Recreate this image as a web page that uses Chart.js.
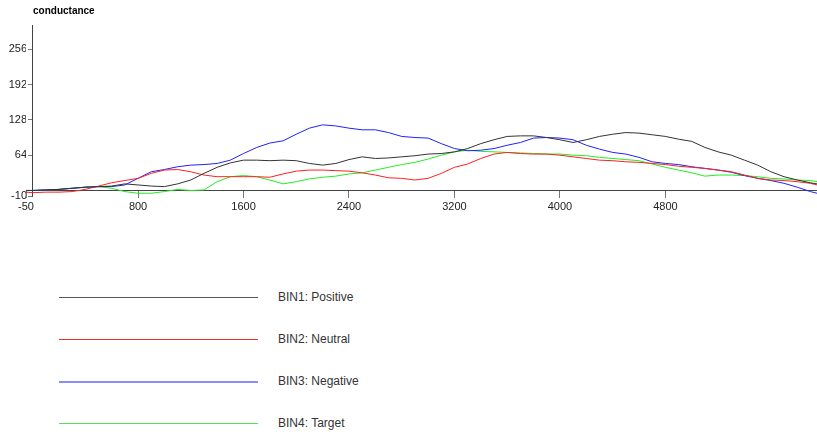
<!DOCTYPE html>
<html>
<head>
  <meta charset="UTF-8">
  <title>conductance</title>
  <script src="https://cdn.jsdelivr.net/npm/chart.js"></script>
  <style>
    body { margin: 0; width: 817px; height: 437px; overflow: hidden; background: #fff;
           font-family: "Liberation Sans", Arial, sans-serif; }
    #title { position: absolute; left: 33px; top: 5px; font-size: 10px; font-weight: bold; color: #000; }
    #wrap { position: absolute; left: 0; top: 0; width: 817px; height: 230px; }
    #legend { position: absolute; left: 0; top: 0; }
    .row { position: absolute; left: 59px; width: 400px; height: 16px; }
    .row .ln { position: absolute; left: 0; width: 199px; top: 8px; }
    .row .tx { position: absolute; left: 219px; top: 1px; font-size: 12px; color: #333; white-space: nowrap; }
  </style>
</head>
<body>
  <div id="wrap"><canvas id="chart" width="817" height="230"></canvas></div>
  <div id="title">conductance</div>
  <div id="legend"></div>

  <script>
    // x positions shared by every series
    const xs = [-50, 0, 100, 200, 300, 400, 500, 600, 700, 800, 900,
                1000, 1100, 1200, 1300, 1400, 1500, 1600, 1700, 1800, 1900,
                2000, 2100, 2200, 2300, 2400, 2500, 2600, 2700, 2800, 2900,
                3000, 3100, 3200, 3300, 3400, 3500, 3600, 3700, 3800, 3900,
                4000, 4100, 4200, 4300, 4400, 4500, 4600, 4700, 4800, 4900,
                5000, 5100, 5200, 5300, 5400, 5500, 5600, 5700, 5800, 5900, 5950];

    const bin1 = [0, 0, 1, 2, 4, 6, 7, 8, 12, 10, 8,
                  7, 12, 19, 31, 42, 50, 55, 55, 54, 55,
                  54, 49, 46, 49, 56, 61, 58, 59, 61, 63,
                  66, 67, 70, 76, 85, 92, 98, 99, 99, 96,
                  92, 87, 92, 98, 102, 105, 104, 101, 98, 93,
                  89, 78, 70, 64, 55, 46, 34, 25, 19, 14, 12];
    const bin2 = [-3, -4, -3, -3, -2, 2, 8, 14, 18, 22, 31,
                  37, 38, 34, 28, 25, 25, 25, 25, 24, 30,
                  35, 37, 37, 36, 35, 32, 28, 23, 22, 19,
                  22, 31, 42, 48, 58, 66, 69, 67, 66, 66,
                  64, 61, 58, 55, 54, 52, 51, 49, 47, 44,
                  42, 40, 37, 34, 28, 22, 19, 18, 16, 13, 10];
    const bin3 = [0, 0, 1, 2, 4, 6, 7, 7, 10, 22, 34,
                  38, 43, 46, 47, 49, 55, 67, 78, 86, 90,
                  102, 113, 119, 117, 113, 110, 110, 105, 98, 96,
                  95, 85, 76, 72, 73, 76, 82, 87, 95, 96,
                  95, 92, 82, 75, 69, 66, 60, 52, 49, 47,
                  43, 40, 37, 33, 27, 22, 18, 13, 6, -2, -5];
    const bin4 = [0, 0, 1, 2, 4, 6, 7, 4, -2, -5, -5,
                  -2, 2, 0, 1, 16, 25, 27, 25, 19, 12,
                  16, 21, 24, 26, 30, 32, 37, 42, 47, 51,
                  57, 64, 70, 73, 71, 70, 69, 68, 67, 66,
                  66, 64, 63, 60, 58, 56, 54, 48, 42, 37,
                  32, 26, 28, 28, 27, 25, 22, 21, 19, 18, 16];

    const names = ['BIN1: Positive', 'BIN2: Neutral', 'BIN3: Negative', 'BIN4: Target'];
    const colors = ['#333333', '#ff2020', '#2020ff', '#22ee22'];
    const legendColors = ['#555555', '#e83030', '#8c8cff', '#55e055'];

    const xTicks = [-50, 800, 1600, 2400, 3200, 4000, 4800];
    const yTicks = [-10, 64, 128, 192, 256];

    const series = [bin1, bin2, bin3, bin4];
    const datasets = series.map((s, i) => ({
      label: names[i],
      data: s.map((v, j) => ({ x: xs[j], y: v })),
      borderColor: colors[i],
      borderWidth: 1,
      pointRadius: 0,
      tension: 0,
      fill: false
    }));

    const tickFont = { family: '"Liberation Sans", Arial, sans-serif', size: 11 };
    const setTicks = list => s => { s.ticks = list.map(v => ({ value: v })); };

    new Chart(document.getElementById('chart'), {
      type: 'line',
      data: { datasets },
      options: {
        responsive: false,
        animation: false,
        layout: { padding: { left: 0, top: 25, right: 0, bottom: 34 } },
        plugins: { legend: { display: false }, tooltip: { enabled: false } },
        scales: {
          x: {
            type: 'linear', min: -50, max: 5950,
            position: { y: 0 },
            afterBuildTicks: setTicks(xTicks),
            ticks: { autoSkip: false, maxRotation: 0, color: '#222', font: tickFont, padding: 3,
                     callback: v => String(v) },
            grid: { drawOnChartArea: false, tickLength: 7, color: '#777' },
            border: { color: '#444' }
          },
          // axis line + tick marks, crossing at x = 0
          y: {
            type: 'linear', min: -10, max: 300,
            position: { x: 0 },
            afterBuildTicks: setTicks(yTicks),
            ticks: { display: false },
            grid: { drawOnChartArea: false, tickLength: 4, color: '#777' },
            border: { color: '#444' }
          },
          // labels only, on the left edge
          yl: {
            type: 'linear', min: -10, max: 300,
            position: 'left',
            afterBuildTicks: setTicks(yTicks),
            afterFit: s => { s.width = 26; },
            ticks: { autoSkip: false, color: '#222', font: tickFont, padding: -1,
                     callback: v => String(v) },
            grid: { display: false, drawTicks: false },
            border: { display: false }
          }
        }
      }
    });

    // legend below the chart
    const legend = document.getElementById('legend');
    const rowTops = [289, 331, 373, 415];
    names.forEach((n, i) => {
      const row = document.createElement('div');
      row.className = 'row';
      row.style.top = rowTops[i] + 'px';
      const h = i === 2 ? 2 : 1;
      row.innerHTML = '<div class="ln" style="height:' + h + 'px;background:' + legendColors[i] + '"></div>' +
                      '<div class="tx">' + n + '</div>';
      legend.appendChild(row);
    });
  </script>
</body>
</html>
